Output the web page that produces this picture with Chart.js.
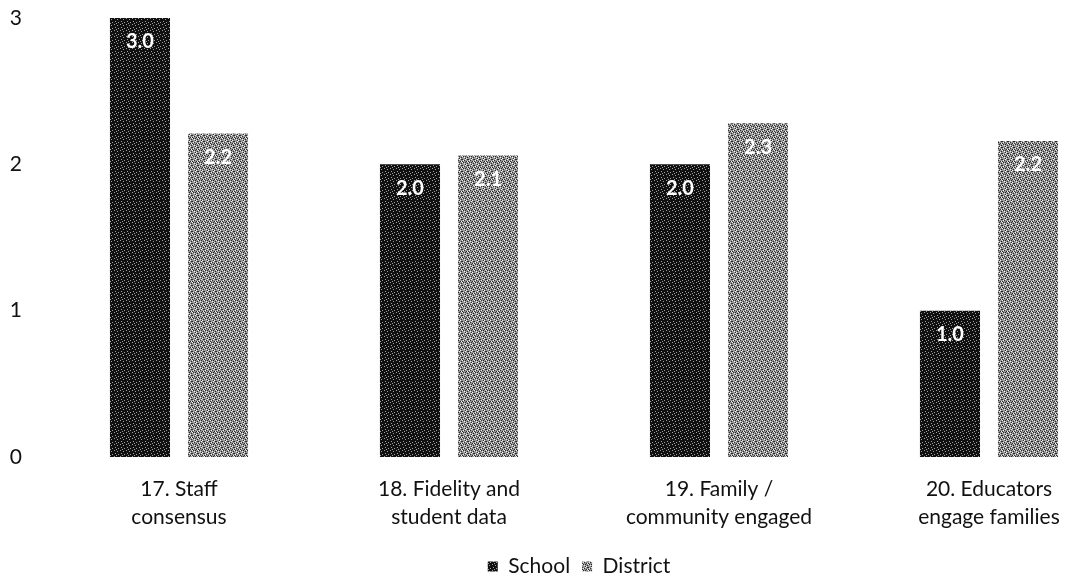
<!DOCTYPE html>
<html>
<head>
<meta charset="utf-8">
<script src="https://cdn.jsdelivr.net/npm/chart.js@4.4.1/dist/chart.umd.min.js"></script>
<style>
  html, body { margin: 0; padding: 0; background: #ffffff; overflow: hidden; }
  #wrap { position: relative; width: 1124px; height: 577px; }
</style>
</head>
<body>
<div id="wrap"><canvas id="c"></canvas></div>
<script>
const categories = [
  ['17. Staff', 'consensus'],
  ['18. Fidelity and', 'student data'],
  ['19. Family /', 'community engaged'],
  ['20. Educators', 'engage families']
];
const seriesNames = ['School', 'District'];
const schoolValues = [3.0, 2.0, 2.0, 1.0];
const districtValues = [2.21, 2.06, 2.28, 2.16];
const yTicks = [0, 1, 2, 3];

const FONT = 'Lato, "Open Sans", sans-serif';

function makePattern(base, dots, dotColor, dark, darkColor) {
  const size = 6;
  const cv = document.createElement('canvas');
  cv.width = size; cv.height = size;
  const cx = cv.getContext('2d');
  cx.fillStyle = base; cx.fillRect(0, 0, size, size);
  cx.fillStyle = dotColor;
  dots.forEach(([x, y]) => cx.fillRect(x, y, 1, 1));
  if (dark) {
    cx.fillStyle = darkColor;
    dark.forEach(([x, y]) => cx.fillRect(x, y, 1, 1));
  }
  return cx.createPattern(cv, 'repeat');
}
const schoolFill = makePattern('#101010', [[0,0],[3,1],[1,3],[4,4],[2,5]], '#a0a0a0');
const districtFill = makePattern('#959595', [[0,0],[2,1],[4,2],[1,4],[5,5],[3,3]], '#f2f2f2',
  [[1,0],[3,2],[5,1],[0,3],[2,4],[4,5],[5,3],[0,5],[3,0]], '#2a2a2a');

const valueLabels = {
  id: 'valueLabels',
  afterDatasetsDraw(chart) {
    const ctx = chart.ctx;
    ctx.save();
    ctx.font = 'bold 20px ' + FONT;
    ctx.fillStyle = '#ffffff';
    ctx.textAlign = 'center';
    ctx.textBaseline = 'middle';
    chart.data.datasets.forEach((ds, i) => {
      chart.getDatasetMeta(i).data.forEach((bar, j) => {
        ctx.fillText(Number(ds.data[j]).toFixed(1), bar.x, bar.y + 24);
      });
    });
    ctx.restore();
  }
};

const legendShift = {
  id: 'legendShift',
  afterLayout(chart) {
    const lg = chart.legend;
    if (lg) {
      lg.top += 10; lg.bottom += 10;
      lg.left += 17; lg.right += 17;
    }
  }
};

new Chart(document.getElementById('c'), {
  type: 'bar',
  data: {
    labels: categories,
    datasets: [
      { label: seriesNames[0], data: schoolValues, backgroundColor: schoolFill },
      { label: seriesNames[1], data: districtValues, backgroundColor: districtFill }
    ]
  },
  options: {
    responsive: true,
    maintainAspectRatio: false,
    animation: false,
    categoryPercentage: 0.578,
    barPercentage: 0.77,
    layout: { padding: { top: 0, left: 0, right: 0, bottom: 0 } },
    plugins: {
      legend: {
        position: 'bottom',
        labels: {
          boxWidth: 10, boxHeight: 10,
          font: { family: FONT, size: 21 },
          color: '#111111',
          padding: 12
        }
      },
      tooltip: { enabled: false }
    },
    scales: {
      x: {
        afterFit(s) { s.height = 77; s.paddingLeft = 0; s.paddingRight = 0; },
        grid: { display: false, drawTicks: false },
        border: { display: false },
        ticks: {
          font: { family: FONT, size: 21, lineHeight: 1.33 },
          color: '#111111',
          padding: 18,
          maxRotation: 0, autoSkip: false
        }
      },
      y: {
        min: 0, max: 3,
        afterFit(s) { s.width = 44; s.paddingTop = 18; s.paddingBottom = 0; },
        afterBuildTicks(s) { s.ticks = yTicks.map(v => ({ value: v })); },
        grid: { display: false, drawTicks: false },
        border: { display: false },
        ticks: {
          stepSize: 1,
          font: { family: FONT, size: 21 },
          color: '#111111',
          padding: 22
        }
      }
    }
  },
  plugins: [valueLabels, legendShift]
});
</script>
</body>
</html>
